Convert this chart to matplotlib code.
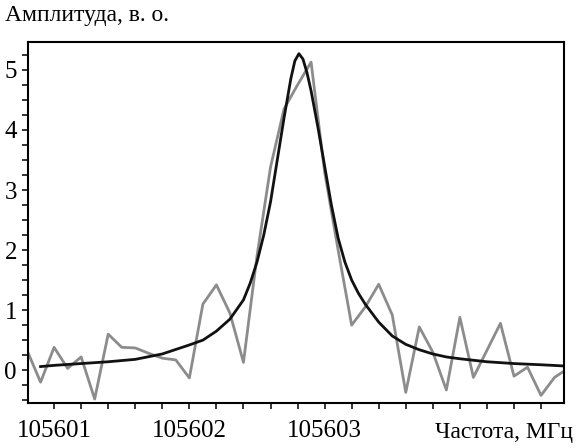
import matplotlib
matplotlib.use('Agg')
import matplotlib.pyplot as plt
from matplotlib.ticker import MultipleLocator, NullFormatter

# частота, смещение от 105600 МГц
base_f = 105600

# экспериментальный спектр (серая линия), шаг 0.1 МГц
exp_f = [0.8, 0.9, 1.0, 1.1, 1.2, 1.3, 1.4, 1.5, 1.6, 1.7, 1.8, 1.9,
         2.0, 2.1, 2.2, 2.3, 2.4, 2.5, 2.6, 2.7, 2.8, 2.9, 3.0, 3.1,
         3.2, 3.3, 3.4, 3.5, 3.6, 3.7, 3.8, 3.9, 4.0, 4.1, 4.2, 4.3,
         4.4, 4.5, 4.6, 4.7, 4.8]
exp_a = [0.33, -0.2, 0.38, 0.03, 0.22, -0.48, 0.6, 0.38, 0.37, 0.28, 0.2, 0.17,
         -0.13, 1.1, 1.42, 0.95, 0.13, 1.9, 3.38, 4.35, 4.75, 5.13, 3.3, 2.0,
         0.75, 1.05, 1.43, 0.92, -0.37, 0.72, 0.3, -0.33, 0.88, -0.12, 0.33, 0.78,
         -0.1, 0.05, -0.42, -0.12, 0.03]

# аппроксимация (черная линия)
fit_f = [0.9, 1.0, 1.2, 1.4, 1.6, 1.8, 2.0, 2.1, 2.2, 2.3, 2.4, 2.45, 2.5,
         2.55, 2.6, 2.65, 2.7, 2.75, 2.78, 2.81, 2.84, 2.87, 2.9, 2.95, 3.0,
         3.05, 3.1, 3.15, 3.2, 3.25, 3.3, 3.4, 3.5, 3.6, 3.7, 3.8, 3.9, 4.0,
         4.2, 4.4, 4.6, 4.77]
fit_a = [0.06, 0.08, 0.11, 0.14, 0.18, 0.27, 0.42, 0.5, 0.65, 0.85, 1.17, 1.45, 1.8,
         2.25, 2.8, 3.5, 4.2, 4.85, 5.15, 5.27, 5.18, 4.95, 4.65, 4.05, 3.4,
         2.75, 2.2, 1.8, 1.5, 1.28, 1.1, 0.8, 0.57, 0.43, 0.34, 0.27, 0.22, 0.19,
         0.14, 0.11, 0.09, 0.07]

x_ticks = [1, 2, 3, 4]
x_labels = ['105601', '105602', '105603', '']

plt.rcParams['font.family'] = ['Liberation Serif', 'DejaVu Serif']

fig = plt.figure(figsize=(5.76, 4.48), dpi=100)
ax = fig.add_axes([0.0486, 0.1, 0.9306, 0.807])

ax.plot([base_f + f for f in exp_f], exp_a, color='#8c8c8c', lw=2.0)
ax.plot([base_f + f for f in fit_f], fit_a, color='#111111', lw=2.0)

ax.set_xlim(base_f + 0.807, base_f + 4.77)
ax.set_ylim(-0.55, 5.47)

ax.xaxis.set_major_locator(MultipleLocator(1))
ax.xaxis.set_minor_locator(MultipleLocator(0.2))
ax.set_xticks([base_f + t for t in x_ticks])
ax.set_xticklabels(x_labels)
ax.yaxis.set_major_locator(MultipleLocator(1))
ax.yaxis.set_minor_locator(MultipleLocator(0.25))
ax.xaxis.set_minor_formatter(NullFormatter())

ax.tick_params(which='both', direction='out', length=4, width=1.1, color='black')
ax.tick_params(axis='x', which='major', labelsize=18, pad=8)
ax.tick_params(axis='y', which='major', labelsize=18, pad=4)

for s in ax.spines.values():
    s.set_linewidth(1.5)
    s.set_color('black')

fig.text(0.009, 1 - 15 / 448, 'Амплитуда, в. о.', fontsize=17, va='center', ha='left')
fig.text(0.995, 1 - 432 / 448, 'Частота, МГц', fontsize=17, va='center', ha='right')

fig.savefig('out.png', dpi=100)
